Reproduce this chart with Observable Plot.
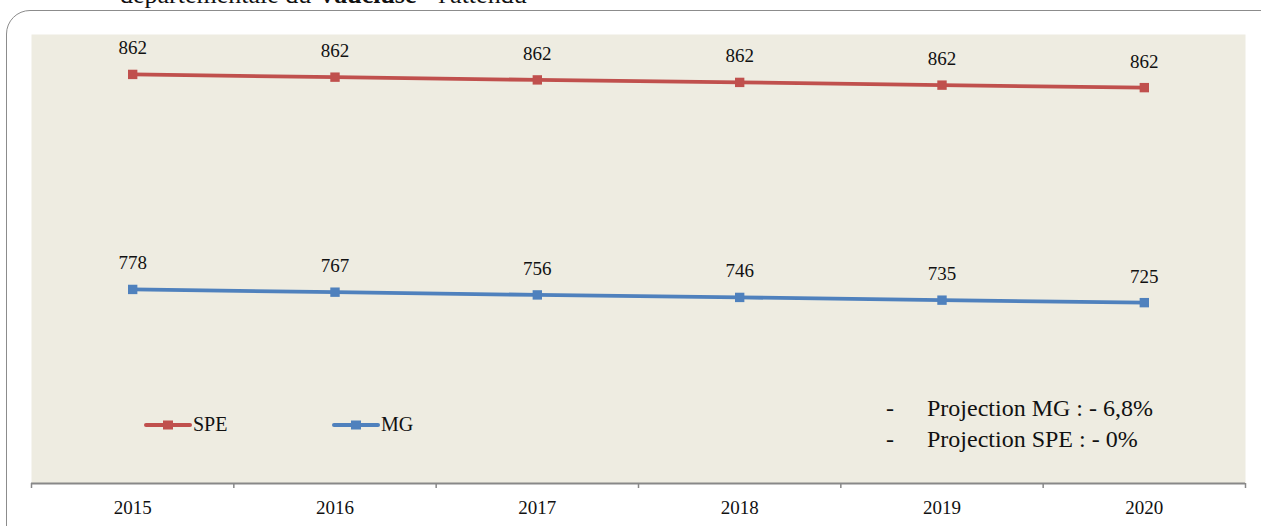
<!DOCTYPE html>
<html>
<head>
<meta charset="utf-8">
<script src="https://cdn.jsdelivr.net/npm/d3@7"></script>
<script src="https://cdn.jsdelivr.net/npm/@observablehq/plot@0.6"></script>
<style>
  html, body { margin: 0; padding: 0; background: #ffffff; }
  body { width: 1261px; height: 526px; position: relative; overflow: hidden; font-family: "Liberation Serif", "DejaVu Serif", serif; }
  #chart { position: absolute; left: 0; top: 0; }
  #border { position: absolute; left: 6px; top: 10px; width: 1280px; height: 540px; border: 1.5px solid #8c8c8c; border-radius: 24px; box-sizing: border-box; pointer-events: none; }
  #toptitle { position: absolute; left: 120px; top: -18px; font-size: 26px; line-height: 26px; color: #111; white-space: nowrap; }
  #legend { position: absolute; top: 412px; left: 144px; font-size: 20px; color: #111; }
  .item { position: absolute; top: 0; display: flex; align-items: center; white-space: nowrap; }
  #note { position: absolute; left: 886px; top: 393px; font-size: 24px; color: #111; line-height: 31px; }
  #note div span.dash { display: inline-block; width: 41px; }
</style>
</head>
<body>
<div id="toptitle">départementale du <b>Vaucluse</b> - l'attendu</div>
<div id="chart"></div>
<div id="legend"></div>
<div id="note"></div>
<div id="border"></div>
<script>
// ---- data ----
const years = [2015, 2016, 2017, 2018, 2019, 2020];
const speValues = [862, 862, 862, 862, 862, 862];
const mgValues = [778, 767, 756, 746, 735, 725];
const seriesNames = ["SPE", "MG"];
const seriesColors = ["#C0504D", "#4F81BD"];
const stackOrder = ["MG", "SPE"];
const notes = ["Projection MG : - 6,8%", "Projection SPE : - 0%"];

const rows = [];
years.forEach((yr, i) => {
  rows.push({year: yr, series: "SPE", value: speValues[i]});
  rows.push({year: yr, series: "MG", value: mgValues[i]});
});
const boundaries = [years[0] - 0.5, ...years.map(y => y + 0.5)];

const stackOpts = {x: "year", y: "value", z: "series", order: stackOrder};

const plot = Plot.plot({
  width: 1261,
  height: 526,
  marginLeft: 31,
  marginRight: 16,
  marginTop: 34,
  marginBottom: 43,
  style: {background: "transparent", fontFamily: "'Liberation Serif', serif", color: "#111"},
  x: {type: "linear", domain: [years[0] - 0.5, years[years.length - 1] + 0.5], label: null},
  y: {domain: [0, 1800], axis: null},
  color: {domain: seriesNames, range: seriesColors},
  marks: [
    Plot.frame({fill: "#EEECE1", stroke: null}),
    Plot.axisX({ticks: boundaries, tickFormat: () => "", tickSize: 5, stroke: "#888888", strokeWidth: 1.5, label: null}),
    Plot.axisX({ticks: years, tickFormat: d => String(d), tickSize: 0, tickPadding: 17, fontSize: 19, label: null}),
    Plot.ruleY([0], {stroke: "#888888", strokeWidth: 2}),
    Plot.line(rows, Plot.stackY2({...stackOpts, stroke: "series", strokeWidth: 3.8})),
    Plot.dot(rows, Plot.stackY2({...stackOpts, fill: "series", symbol: "square", r: 5.3, stroke: null})),
    Plot.text(rows, Plot.stackY2({...stackOpts, text: d => String(d.value), lineAnchor: "bottom", dy: -20, fontSize: 19, fill: "#111"}))
  ]
});
document.getElementById("chart").appendChild(plot);

// legend
const legend = document.getElementById("legend");
const legendLefts = [0, 188];
seriesNames.forEach((name, i) => {
  const item = document.createElement("div");
  item.className = "item";
  item.style.left = legendLefts[i] + "px";
  const c = seriesColors[i];
  item.innerHTML = `<svg width="48" height="24" style="margin-right:1px"><line x1="2" x2="46" y1="13" y2="13" stroke="${c}" stroke-width="4" stroke-linecap="round"/><rect x="19" y="8.5" width="10" height="9" fill="${c}"/></svg><span>${name}</span>`;
  legend.appendChild(item);
});

// note
const note = document.getElementById("note");
notes.forEach(t => {
  const d = document.createElement("div");
  d.innerHTML = `<span class="dash">-</span>${t}`;
  note.appendChild(d);
});
</script>
</body>
</html>
